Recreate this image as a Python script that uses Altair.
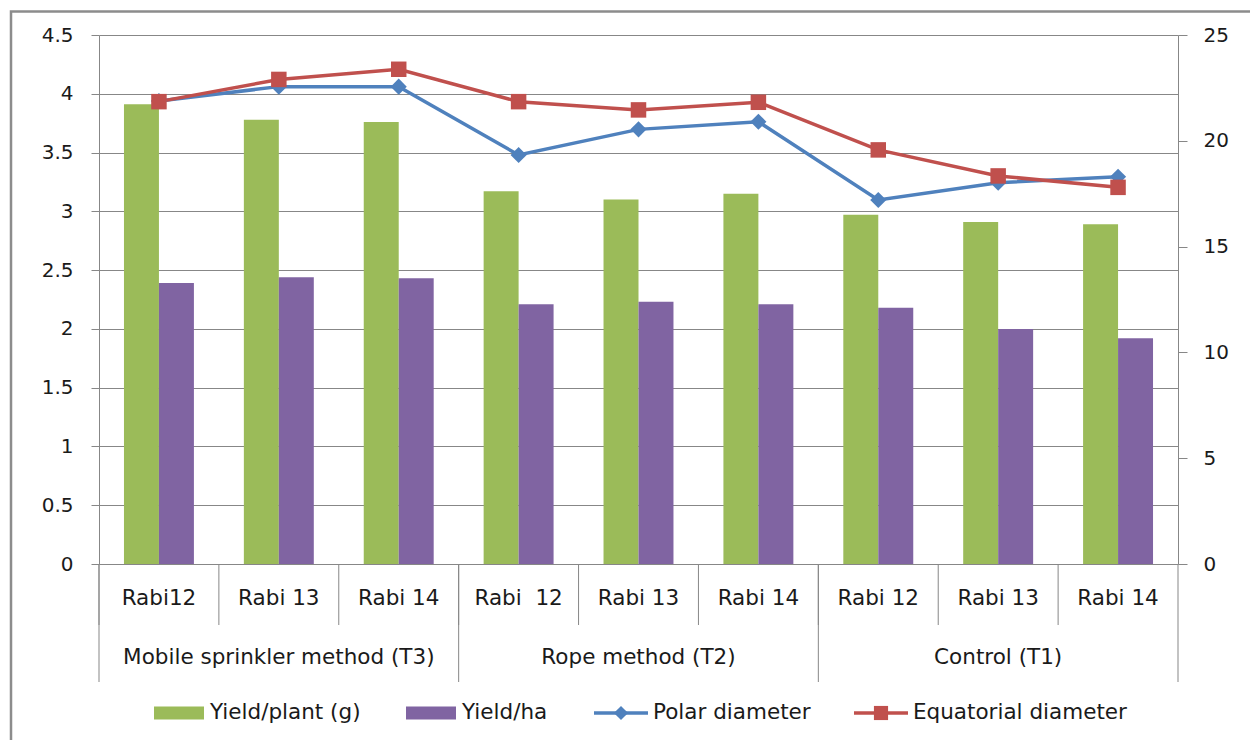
import altair as alt
import pandas as pd

# ---------------- data ----------------
groups = ["Mobile sprinkler method (T3)", "Rope method (T2)", "Control (T1)"]
seasons = ["Rabi12", "Rabi 13", "Rabi 14",
           "Rabi\u00a0 12", "Rabi 13", "Rabi 14",
           "Rabi 12", "Rabi 13", "Rabi 14"]
group_of = [0, 0, 0, 1, 1, 1, 2, 2, 2]
yield_plant = [3.91, 3.78, 3.76, 3.17, 3.10, 3.15, 2.97, 2.91, 2.89]
yield_ha = [2.39, 2.44, 2.43, 2.21, 2.23, 2.21, 2.18, 2.00, 1.92]
polar = [21.88, 22.56, 22.56, 19.33, 20.54, 20.90, 17.20, 18.02, 18.30]
equatorial = [21.85, 22.90, 23.38, 21.85, 21.46, 21.82, 19.57, 18.34, 17.80]
left_ticks = [0, 0.5, 1, 1.5, 2, 2.5, 3, 3.5, 4, 4.5]
right_ticks = [0, 5, 10, 15, 20, 25]
bar_series = ["Yield/plant (g)", "Yield/ha"]
line_series = ["Polar diameter", "Equatorial diameter"]
bar_colors = ["#9BBB59", "#8064A2"]
line_colors = ["#4F81BD", "#C0504D"]

keys = [f"{group_of[i]}|{i}" for i in range(len(seasons))]

df = pd.DataFrame({
    "cat": keys,
    "season": seasons,
    "group": [groups[g] for g in group_of],
    bar_series[0]: yield_plant,
    bar_series[1]: yield_ha,
    line_series[0]: polar,
    line_series[1]: equatorial,
})

FONT = "DejaVu Sans"
FS = 20
FS2 = 21.5
GRAY = "#878787"
TXT = "#1a1a1a"
W, H = 1079, 529


def xenc(bp=None):
    kw = dict(sort=keys, scale=alt.Scale(paddingInner=0, paddingOuter=0), axis=None)
    if bp is not None:
        kw["bandPosition"] = bp
    return alt.X("cat:N", **kw)


# ---------------- bars (left axis) ----------------
bars = alt.Chart(df).transform_fold(bar_series, as_=["series", "value"]).mark_bar().encode(
    x=xenc(),
    xOffset=alt.XOffset("series:N", sort=bar_series,
                        scale=alt.Scale(paddingInner=0, paddingOuter=0.714)),
    y=alt.Y("value:Q", scale=alt.Scale(domain=[0, 4.5], nice=False),
            axis=alt.Axis(orient="left", values=left_ticks, format="~g", title=None,
                          grid=True, gridColor=GRAY, gridWidth=1,
                          domainColor=GRAY, domainWidth=1, tickColor=GRAY, tickSize=8,
                          labelPadding=18, labelFont=FONT, labelFontSize=FS,
                          labelColor=TXT)),
    color=alt.Color("series:N", scale=alt.Scale(domain=bar_series, range=bar_colors),
                    legend=None),
)

# ---------------- lines (right axis) ----------------
long = df.melt(id_vars=["cat"], value_vars=line_series, var_name="series", value_name="mm")
yr = alt.Y("mm:Q", scale=alt.Scale(domain=[0, 25], nice=False),
           axis=alt.Axis(orient="right", values=right_ticks, title=None, grid=False,
                         domainColor=GRAY, domainWidth=1, tickColor=GRAY, tickSize=9,
                         labelPadding=16, labelFont=FONT, labelFontSize=FS,
                         labelColor=TXT))
lcolor = alt.Color("series:N", scale=alt.Scale(domain=line_series, range=line_colors),
                   legend=None)
lines = alt.Chart(long).mark_line(strokeWidth=3.5).encode(
    x=xenc(), y=yr, color=lcolor, detail="series:N")
pts = alt.Chart(long).mark_point(filled=True, opacity=1, strokeWidth=0).encode(
    x=xenc(), y=yr, color=lcolor,
    shape=alt.Shape("series:N", scale=alt.Scale(domain=line_series, range=["diamond", "square"]),
                    legend=None),
    size=alt.Size("series:N", scale=alt.Scale(domain=line_series, range=[260, 240]),
                  legend=None),
)
right = alt.layer(lines, pts)

# ---------------- multi-level category axis ----------------
short_sep = alt.Chart(df).mark_rule(color=GRAY, strokeWidth=1).encode(
    x=xenc(0), y=alt.value(H), y2=alt.value(H + 61))
gstart = pd.DataFrame({"cat": [keys[i] for i in range(len(keys)) if i == 0 or group_of[i] != group_of[i - 1]]})
long_sep = alt.Chart(gstart).mark_rule(color=GRAY, strokeWidth=1).encode(
    x=xenc(0), y=alt.value(H), y2=alt.value(H + 118))
end_sep = alt.Chart(pd.DataFrame({"cat": [keys[-1]]})).mark_rule(color=GRAY, strokeWidth=1).encode(
    x=xenc(1), y=alt.value(H), y2=alt.value(H + 118))
season_txt = alt.Chart(df).mark_text(font=FONT, fontSize=FS2, color=TXT, baseline="middle").encode(
    x=xenc(), y=alt.value(H + 35), text="season:N")
gmid = pd.DataFrame({"cat": [keys[3 * g + 1] for g in range(len(groups))], "group": groups})
group_txt = alt.Chart(gmid).mark_text(font=FONT, fontSize=FS2, color=TXT, baseline="middle").encode(
    x=xenc(), y=alt.value(H + 94), text="group:N")

# ---------------- manual legend ----------------
LY = H + 149
one = lambda s: pd.DataFrame({"label": [s]})
leg = []
for name, col, x0 in [(bar_series[0], bar_colors[0], 55), (bar_series[1], bar_colors[1], 307)]:
    leg.append(alt.Chart(one(name)).mark_rect(color=col).encode(
        x=alt.value(x0), x2=alt.value(x0 + 50), y=alt.value(LY - 6.5), y2=alt.value(LY + 6.5)))
    leg.append(alt.Chart(one(name)).mark_text(font=FONT, fontSize=FS2, color=TXT, align="left",
                                               baseline="middle").encode(
        x=alt.value(x0 + 56), y=alt.value(LY), text="label:N"))
for name, col, x0, shp, sz in [(line_series[0], line_colors[0], 495, "diamond", 200),
                               (line_series[1], line_colors[1], 755, "square", 200)]:
    leg.append(alt.Chart(one(name)).mark_rule(color=col, strokeWidth=3.5).encode(
        x=alt.value(x0), x2=alt.value(x0 + 54), y=alt.value(LY)))
    leg.append(alt.Chart(one(name)).mark_point(color=col, filled=True, opacity=1, shape=shp,
                                                size=sz, strokeWidth=0).encode(
        x=alt.value(x0 + 27), y=alt.value(LY)))
    leg.append(alt.Chart(one(name)).mark_text(font=FONT, fontSize=FS2, color=TXT, align="left",
                                               baseline="middle").encode(
        x=alt.value(x0 + 59), y=alt.value(LY), text="label:N"))

# ---------------- outer frame ----------------
frame = alt.Chart(one("frame")).mark_rect(fill="transparent", stroke="#8c8c8c", strokeWidth=2.5).encode(
    x=alt.value(-88), y=alt.value(-23.5), x2=alt.value(W + 200), y2=alt.value(H + 300))

chart = alt.layer(
    frame, bars, right, short_sep, long_sep, end_sep, season_txt, group_txt, *leg
).resolve_scale(
    y="independent", color="independent", shape="independent", size="independent"
).properties(
    width=W, height=H,
    autosize=alt.AutoSizeParams(type="none"),
    padding={"left": 99, "top": 35, "right": 72, "bottom": 176},
    background="white",
).configure_view(stroke="transparent")

chart.save("out.html", embed_options={"renderer": "svg", "actions": False})
